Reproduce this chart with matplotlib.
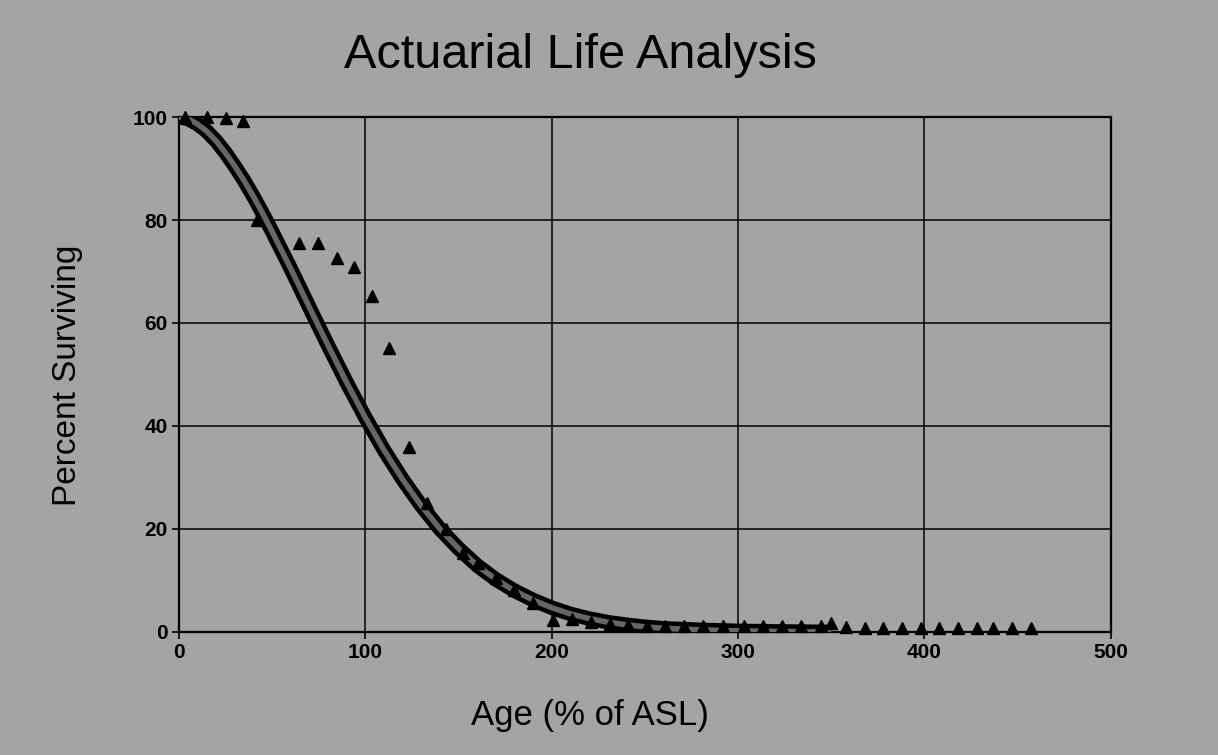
import matplotlib
matplotlib.use("Agg")
import matplotlib.pyplot as plt

plt.rcParams["font.family"] = ["Liberation Sans", "DejaVu Sans"]

# fitted survival curve
curve_age = [0, 5, 10, 15, 20, 25, 30, 35, 40, 45, 50, 60, 70, 80, 90, 100,
             110, 120, 130, 140, 150, 160, 170, 180, 190, 200, 210, 220, 230,
             240, 250, 260, 280, 300, 320, 350]
curve_pct = [100, 99.6, 98.6, 97.2, 95.3, 93.0, 90.4, 87.6, 84.5, 81.2, 77.7,
             70.5, 63.0, 55.6, 48.4, 41.6, 35.3, 29.6, 24.5, 20.0, 16.2, 12.9,
             10.2, 8.0, 6.2, 4.7, 3.5, 2.6, 1.9, 1.4, 1.0, 0.7, 0.4, 0.2, 0.1,
             0.0]

# observed data (triangles)
obs_age = [3, 15, 25, 34.5, 42, 64.5, 74.7, 84.5, 94, 103.3, 112.8, 123.5,
           133, 143, 152.5, 160.5, 170, 180, 190, 200.5, 211, 221, 231, 241,
           251, 261, 271, 281, 292, 303, 313.5, 323.5, 334, 344.5, 350,
           358, 368, 378, 388, 398, 408, 418, 428, 437, 447, 457]
obs_pct = [100, 100, 99.8, 99.3, 80, 75.5, 75.5, 72.7, 70.8, 65.2, 55.1, 36,
           25, 20, 15.3, 13.3, 10.5, 8.2, 5.6, 2.3, 2.5, 2.0, 1.6, 1.4,
           1.2, 1.2, 1.2, 1.2, 1.2, 1.2, 1.2, 1.2, 1.2, 1.2, 1.8,
           0.9, 0.8, 0.8, 0.8, 0.8, 0.8, 0.8, 0.8, 0.8, 0.8, 0.8]

bg = "#a4a4a4"
fig = plt.figure(figsize=(12.18, 7.55), dpi=100, facecolor=bg)
ax = fig.add_axes([0.147, 0.163, 0.765, 0.682], facecolor=bg)

ax.plot(curve_age, curve_pct, color="black", lw=10.5, solid_capstyle="butt",
        solid_joinstyle="round", zorder=3)
ax.plot(curve_age, curve_pct, color="#666666", lw=4, solid_capstyle="butt",
        solid_joinstyle="round", zorder=4)
ax.plot(obs_age, obs_pct, linestyle="none", marker="^", markersize=9,
        color="black", zorder=5, clip_on=False)

ax.set_xlim(0, 500)
ax.set_ylim(0, 100)
ax.set_xticks([0, 100, 200, 300, 400, 500])
ax.set_yticks([0, 20, 40, 60, 80, 100])
ax.grid(True, color="black", linewidth=1.1)
for s in ax.spines.values():
    s.set_color("black")
    s.set_linewidth(1.6)
ax.tick_params(axis="both", direction="out", length=5, width=1.2,
               colors="black", labelsize=15, pad=3)
for lab in ax.get_xticklabels() + ax.get_yticklabels():
    lab.set_fontweight("bold")

fig.text(580 / 1218, 1 - 55 / 755, "Actuarial Life Analysis", fontsize=35,
         ha="center", va="center")
fig.text(590 / 1218, 1 - 715 / 755, "Age (% of ASL)", fontsize=25,
         ha="center", va="center")
fig.text(68 / 1218, 1 - 375 / 755, "Percent Surviving", fontsize=24,
         ha="center", va="center", rotation=90)

fig.savefig("out.png", dpi=100, facecolor=bg)
